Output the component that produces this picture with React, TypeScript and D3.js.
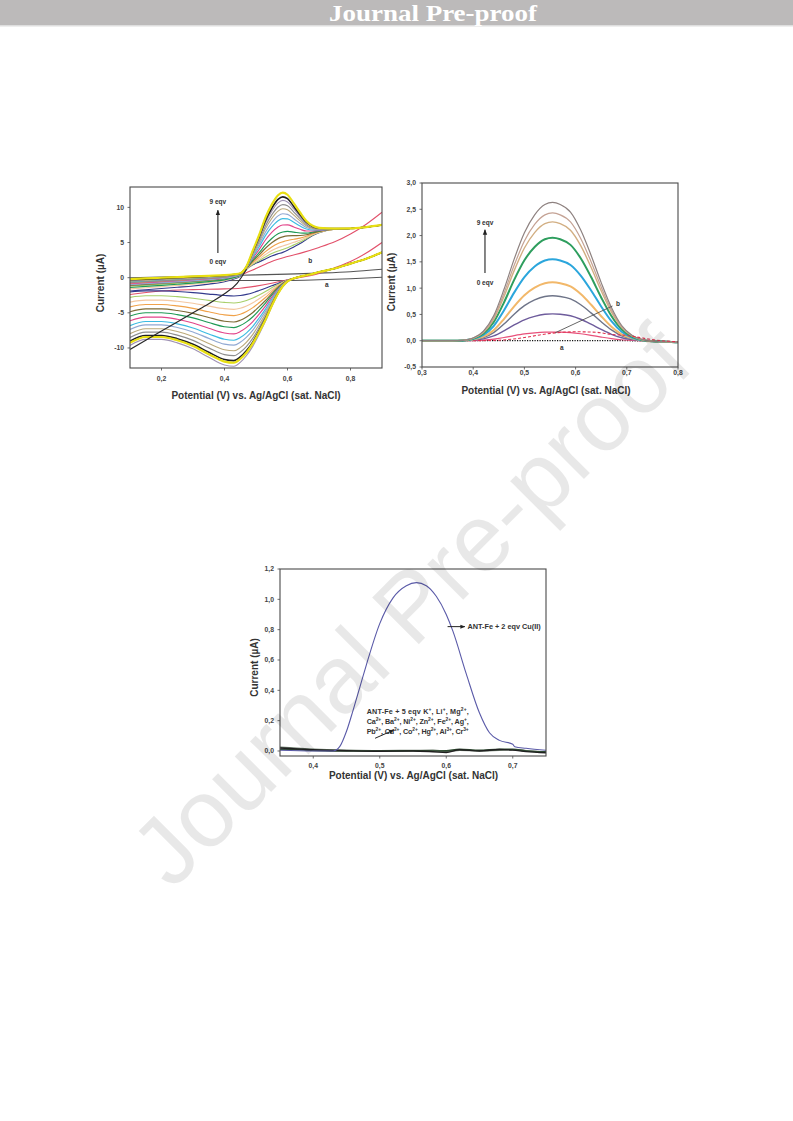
import React from "react";
import * as d3 from "d3";

const FONT = "'Liberation Sans', Arial, Helvetica, sans-serif";

// ================= Chart 1 : cyclic voltammograms =================
const cvXDomain = [0.1, 0.9];
const cvYDomain = [-12.85, 12.9];
const cvXTicks = [0.2, 0.4, 0.6, 0.8];
const cvYTicks = [-10, -5, 0, 5, 10];

const cvX = [0.10, 0.15, 0.20, 0.25, 0.30, 0.35, 0.40, 0.43, 0.45, 0.47, 0.49, 0.51, 0.53, 0.55, 0.57, 0.585, 0.60, 0.62, 0.64, 0.66, 0.68, 0.70, 0.75, 0.80, 0.85, 0.90];
// forward scan background (read from the bundle)
const cvUpBase = [-0.3, -0.2, -0.1, 0.0, 0.1, 0.2, 0.3, 0.45, 0.6, 1.2, 1.8, 2.2, 2.6, 3.0, 3.3, 3.5, 3.8, 4.3, 4.8, 5.4, 6.0, 6.4, 6.9, 7.0, 7.2, 7.5];
// relative fade of the low-potential offsets of the forward scans
const cvUpLeftFade = [1, 0.95, 0.9, 0.85, 0.8, 0.7, 0.55, 0.4, 0.25, 0, 0, 0, 0, 0, 0, 0, 0, 0, 0, 0, 0, 0, 0, 0, 0, 0];
// oxidation wave profile (1 at the anodic peak, 0.585 V)
const cvUpWave = [0, 0, 0, 0, 0, 0, 0, 0, 0, 0.05, 0.24, 0.45, 0.69, 0.86, 0.98, 1, 0.93, 0.73, 0.52, 0.31, 0.16, 0.08, 0.01, 0, 0, 0];
// reverse scan background
const cvLowBase = [-0.4, -0.4, -0.4, -0.4, -0.4, -0.4, -0.4, -0.45, -0.5, -0.5, -0.5, -0.5, -0.5, -0.5, -0.5, -0.4, -0.3, -0.1, 0.15, 0.35, 0.55, 0.8, 1.3, 2.0, 2.7, 3.6];
// reduction wave profile (1 at the cathodic peak, 0.43 V)
const cvLowWave = [0.76, 0.69, 0.69, 0.73, 0.8, 0.9, 0.99, 1, 0.95, 0.87, 0.76, 0.62, 0.47, 0.3, 0.15, 0.07, 0.02, 0, 0, 0, 0, 0, 0, 0, 0, 0];

// titration curves (0 -> 9 eqv)
const cvColors = ["#333a8c", "#a8cf6a", "#f3c7a0", "#f0a24a", "#7d6b35", "#1f9a55", "#e2448a", "#3bbbe2", "#90a8d2", "#bba97a", "#8e8e8e", "#a093b5", "#202020", "#e8df12"];
const cvAnodicPeak = [3.6, 4.0, 4.5, 5.1, 5.8, 6.5, 7.5, 8.4, 9.1, 9.8, 10.4, 11.0, 11.5, 12.1];
const cvCathodicPeak = [-2.6, -3.6, -4.5, -5.4, -6.3, -7.1, -8.0, -8.9, -9.6, -10.4, -11.1, -12.6, -11.8, -12.1];
const cvUpOffset = [-1.6, -0.9, -1.3, -0.5, -0.8, -1.1, -0.6, -0.3, -0.7, -0.2, -0.4, -0.1, 0.0, 0.1];

// curve b
const cvBX = [0.10, 0.20, 0.30, 0.40, 0.45, 0.50, 0.55, 0.60, 0.65, 0.70, 0.75, 0.80, 0.85, 0.90];
const cvBUp = [-0.8, -0.5, -0.3, 0.0, 0.4, 1.3, 2.3, 3.0, 3.6, 4.3, 5.1, 6.2, 7.6, 9.3];
const cvBLow = [-2.4, -1.9, -1.7, -1.6, -1.5, -1.2, -0.8, -0.3, 0.1, 0.6, 1.4, 2.3, 3.5, 5.0];
// curve a
const cvAX = [0.10, 0.30, 0.45, 0.60, 0.70, 0.80, 0.90];
const cvAUp = [0.0, 0.2, 0.35, 0.5, 0.65, 0.85, 1.2];
const cvALow = [-0.5, -0.45, -0.4, -0.4, -0.3, -0.15, 0.05];
// start of first scan
const cvStartX = [0.10, 0.15, 0.20, 0.25, 0.30, 0.35, 0.40, 0.44, 0.47];
const cvStartY = [-10.2, -8.9, -7.6, -6.3, -5.0, -3.7, -2.3, -0.8, 1.2];

// ================= Chart 2 : DPV titration =================
const dpvXDomain = [0.3, 0.8];
const dpvYDomain = [-0.5, 3.0];
const dpvXTicks = [0.3, 0.4, 0.5, 0.6, 0.7, 0.8];
const dpvYTicks = [-0.5, 0, 0.5, 1, 1.5, 2, 2.5, 3];
const dpvX = [0.30, 0.36, 0.38, 0.40, 0.42, 0.44, 0.46, 0.48, 0.50, 0.52, 0.54, 0.555, 0.57, 0.59, 0.61, 0.63, 0.65, 0.67, 0.69, 0.71, 0.73, 0.75, 0.78, 0.80];
const dpvShape = [0, 0, 0.003, 0.02, 0.07, 0.18, 0.37, 0.59, 0.78, 0.91, 0.985, 1, 0.985, 0.93, 0.8, 0.62, 0.42, 0.24, 0.11, 0.04, 0.01, 0, 0, 0];
const dpvBaseline = [0, 0, 0, 0, 0, 0, 0, 0, 0, 0, 0, 0, 0, 0, 0, 0, 0, 0, 0, 0, -0.005, -0.01, -0.02, -0.03];
const dpvPeaks = [0.165, 0.51, 0.855, 1.11, 1.55, 1.96, 2.26, 2.43, 2.63];
const dpvColors = ["#e8507a", "#6e5c9c", "#6e7488", "#f2b86a", "#2ba6dc", "#2e9e5e", "#d2ae82", "#c4a294", "#8e8280"];
const dpvWidths = [1.2, 1.4, 1.4, 2, 2, 2, 1.4, 1.2, 1.2];
const dpvBX = [0.40, 0.45, 0.50, 0.53, 0.56, 0.60, 0.64, 0.67, 0.70, 0.72, 0.75, 0.80];
const dpvBY = [0, 0.01, 0.06, 0.11, 0.15, 0.17, 0.16, 0.12, 0.1, 0.07, 0.02, -0.02];
const dpvAX = [0.3, 0.7, 0.75, 0.8];
const dpvAY = [0, 0, -0.01, -0.03];

// ================= Chart 3 : selectivity =================
const selXDomain = [0.35, 0.75];
const selYDomain = [-0.033, 1.2];
const selXTicks = [0.4, 0.5, 0.6, 0.7];
const selYTicks = [0, 0.2, 0.4, 0.6, 0.8, 1.0, 1.2];
const selCuX = [0.35, 0.40, 0.43, 0.44, 0.45, 0.46, 0.47, 0.48, 0.50, 0.52, 0.54, 0.555, 0.57, 0.585, 0.60, 0.61, 0.63, 0.65, 0.665, 0.68, 0.70, 0.703, 0.72, 0.75];
const selCuY = [0.005, 0.0, 0.0, 0.03, 0.13, 0.27, 0.42, 0.57, 0.84, 1.01, 1.09, 1.11, 1.09, 1.02, 0.9, 0.79, 0.51, 0.25, 0.12, 0.07, 0.045, 0.028, 0.018, 0.005];
const selBaseX = [0.35, 0.37, 0.40, 0.45, 0.50, 0.55, 0.58, 0.60, 0.62, 0.65, 0.68, 0.70, 0.72, 0.75];
const selBase1 = [0.02, 0.015, 0.008, 0.002, -0.002, 0.0, -0.005, -0.01, 0.008, 0.0, 0.01, 0.006, -0.004, -0.012];
const selBase2 = [0.012, 0.01, 0.004, 0.0, 0.0, 0.002, 0.0, 0.002, 0.012, 0.004, 0.012, 0.012, 0.0, -0.006];
const selBase3 = [0.025, 0.02, 0.012, 0.005, 0.002, 0.003, 0.004, -0.002, 0.005, 0.002, 0.006, 0.008, 0.002, -0.008];
const selBaseColors = ["#6a7a6a", "#2e4a30", "#202020"];

const ionLines: [string, string][][] = [
  [["ANT-Fe + 5 eqv K", "+"], [", Li", "+"], [", Mg", "2+"], [",", ""]],
  [["Ca", "2+"], [", Ba", "2+"], [", Ni", "2+"], [", Zn", "2+"], [", Fe", "2+"], [", Ag", "+"], [",", ""]],
  [["Pb", "2+"], [", Cd", "2+"], [", Co", "2+"], [", Hg", "2+"], [", Al", "3+"], [", Cr", "3+"]],
];

type Box = { l: number; t: number; r: number; b: number };

const fmt = (v: number, d: number) => (v < 0 ? "-" : "") + Math.abs(v).toFixed(d).replace(".", ",");

function Axes(p: {
  box: Box; xs: any; ys: any; xTicks: number[]; yTicks: number[]; xDec: number; yDec: number;
  xLabDy: number; xTitleX: number; xTitleY: number; yTitleX: number; yTitleY: number;
}) {
  const { box, xs, ys } = p;
  const c = "#4a4a4a";
  return (
    <g fontFamily={FONT}>
      <rect x={box.l} y={box.t} width={box.r - box.l} height={box.b - box.t} fill="none" stroke={c} strokeWidth={1.1} />
      {p.xTicks.map((v) => (
        <g key={"x" + v}>
          <line x1={xs(v)} x2={xs(v)} y1={box.b} y2={box.b + 2.5} stroke={c} strokeWidth={0.8} />
          <text x={xs(v)} y={box.b + p.xLabDy} textAnchor="middle" fontSize={6.8} fontWeight="bold" fill="#444">{fmt(v, p.xDec)}</text>
        </g>
      ))}
      {p.yTicks.map((v) => (
        <g key={"y" + v}>
          <line x1={box.l - 2.5} x2={box.l} y1={ys(v)} y2={ys(v)} stroke={c} strokeWidth={0.8} />
          <text x={box.l - 6} y={ys(v) + 2.4} textAnchor="end" fontSize={6.8} fontWeight="bold" fill="#444">{fmt(v, p.yDec)}</text>
        </g>
      ))}
      <text x={p.xTitleX} y={p.xTitleY} textAnchor="middle" fontSize={10} fontWeight="bold" fill="#333">Potential (V) vs. Ag/AgCl (sat. NaCl)</text>
      <text transform={`translate(${p.yTitleX},${p.yTitleY}) rotate(-90)`} textAnchor="middle" fontSize={10} fontWeight="bold" fill="#333">Current (µA)</text>
    </g>
  );
}

function IonText({ x, y, segs, len }: { x: number; y: number; segs: [string, string][]; len: number }) {
  const parts: React.ReactNode[] = [];
  let raised = false;
  segs.forEach(([t, s], k) => {
    parts.push(<tspan key={"t" + k} dy={raised ? 2.7 : 0}>{t}</tspan>);
    raised = false;
    if (s) {
      parts.push(<tspan key={"s" + k} dy={-2.7} fontSize={4.9}>{s}</tspan>);
      raised = true;
    }
  });
  return <text x={x} y={y} textLength={len} lengthAdjust="spacing">{parts}</text>;
}

export default function App() {
  // ---------- chart 1 ----------
  const b1: Box = { l: 130, t: 187, r: 382, b: 368 };
  const x1 = d3.scaleLinear().domain(cvXDomain).range([b1.l, b1.r]);
  const y1 = d3.scaleLinear().domain(cvYDomain).range([b1.b, b1.t]);
  const l1 = d3.line<[number, number]>().x((d) => x1(d[0])).y((d) => y1(d[1])).curve(d3.curveMonotoneX);
  const zip = (xs: number[], ys: number[]) => xs.map((x, i) => [x, ys[i]] as [number, number]);
  const upK = cvX.indexOf(0.585);
  const lowK = cvX.indexOf(0.43);
  const cvCurves = cvAnodicPeak.map((ap, i) => {
    const up = cvX.map((x, k) => [x, cvUpBase[k] + cvUpOffset[i] * cvUpLeftFade[k] + (ap - cvUpBase[upK]) * cvUpWave[k]] as [number, number]);
    const low = cvX.map((x, k) => [x, cvLowBase[k] + (cvCathodicPeak[i] - cvLowBase[lowK]) * cvLowWave[k]] as [number, number]);
    return { up, low, color: cvColors[i], w: i === cvColors.length - 1 ? 2.2 : i === cvColors.length - 2 ? 1.6 : 1.15 };
  });

  // ---------- chart 2 ----------
  const b2: Box = { l: 422, t: 183, r: 678, b: 367 };
  const x2 = d3.scaleLinear().domain(dpvXDomain).range([b2.l, b2.r]);
  const y2 = d3.scaleLinear().domain(dpvYDomain).range([b2.b, b2.t]);
  const l2 = d3.line<[number, number]>().x((d) => x2(d[0])).y((d) => y2(d[1])).curve(d3.curveMonotoneX);
  const dpvCurves = dpvPeaks.map((p, i) => ({
    pts: dpvX.map((x, k) => [x, dpvBaseline[k] + p * dpvShape[k]] as [number, number]),
    color: dpvColors[i],
    w: dpvWidths[i],
  }));

  // ---------- chart 3 ----------
  const b3: Box = { l: 280, t: 569, r: 546, b: 756 };
  const x3 = d3.scaleLinear().domain(selXDomain).range([b3.l, b3.r]);
  const y3 = d3.scaleLinear().domain(selYDomain).range([b3.b, b3.t]);
  const l3 = d3.line<[number, number]>().x((d) => x3(d[0])).y((d) => y3(d[1])).curve(d3.curveMonotoneX);
  const selBases = [selBase3, selBase2, selBase1];

  const labelProps = { fontFamily: FONT, fontWeight: "bold" as const, fill: "#333" };

  return (
    <svg width={793} height={1121} viewBox="0 0 793 1121" style={{ position: "absolute", left: 0, top: 0, background: "#fff" }}>
      <defs>
        <clipPath id="c1"><rect x={b1.l} y={b1.t} width={b1.r - b1.l} height={b1.b - b1.t} /></clipPath>
        <clipPath id="c2"><rect x={b2.l} y={b2.t} width={b2.r - b2.l} height={b2.b - b2.t} /></clipPath>
        <clipPath id="c3"><rect x={b3.l} y={b3.t} width={b3.r - b3.l} height={b3.b - b3.t} /></clipPath>
        <marker id="ah" viewBox="0 0 10 10" refX="9" refY="5" markerWidth="5" markerHeight="5" orient="auto-start-reverse">
          <path d="M0,1 L10,5 L0,9 z" fill="#222" />
        </marker>
      </defs>
      <rect x={0} y={0} width={793} height={1121} fill="#fff" />

      {/* header */}
      <rect x={0} y={0} width={793} height={25} fill="#bcbaba" />
      <rect x={0} y={25} width={793} height={1.5} fill="#dedede" />
      <text x={433} y={20.5} textAnchor="middle" fontFamily="'Liberation Serif', 'Times New Roman', serif" fontWeight="bold" fontSize={24} fill="#fff" textLength={208} lengthAdjust="spacingAndGlyphs">Journal Pre-proof</text>

      {/* ---------- chart 1 ---------- */}
      <g clipPath="url(#c1)" fill="none">
        <path d={l1(zip(cvAX, cvAUp)) || ""} stroke="#555" strokeWidth={1.1} />
        <path d={l1(zip(cvAX, cvALow)) || ""} stroke="#555" strokeWidth={1.1} />
        <path d={l1(zip(cvBX, cvBUp)) || ""} stroke="#e2506a" strokeWidth={1.1} />
        <path d={l1(zip(cvBX, cvBLow)) || ""} stroke="#e2506a" strokeWidth={1.1} />
        {cvCurves.map((c, i) => (
          <g key={i}>
            <path d={l1(c.up) || ""} stroke={c.color} strokeWidth={c.w} />
            <path d={l1(c.low) || ""} stroke={c.color} strokeWidth={c.w} />
          </g>
        ))}
        <path d={l1(zip(cvStartX, cvStartY)) || ""} stroke="#2a2a2a" strokeWidth={1.2} />
      </g>
      <Axes box={b1} xs={x1} ys={y1} xTicks={cvXTicks} yTicks={cvYTicks} xDec={1} yDec={0}
        xLabDy={12.5} xTitleX={256} xTitleY={398.5} yTitleX={104} yTitleY={283} />
      <g {...labelProps} fontSize={6.5}>
        <text x={x1(0.379)} y={y1(10.8) + 2.2} textAnchor="middle">9 eqv</text>
        <text x={x1(0.379)} y={y1(2.2) + 2.2} textAnchor="middle">0 eqv</text>
        <text x={x1(0.672)} y={y1(2.4) + 2.2} textAnchor="middle">b</text>
        <text x={x1(0.725)} y={y1(-1.0) + 2.2} textAnchor="middle">a</text>
      </g>
      <line x1={x1(0.379)} x2={x1(0.379)} y1={y1(3.5)} y2={y1(9.6)} stroke="#222" strokeWidth={1.1} markerEnd="url(#ah)" />

      {/* ---------- chart 2 ---------- */}
      <g clipPath="url(#c2)" fill="none">
        <path d={l2(zip(dpvAX, dpvAY)) || ""} stroke="#111" strokeWidth={1.3} strokeDasharray="1.2,1.3" />
        {dpvCurves.map((c, i) => (
          <path key={i} d={l2(c.pts) || ""} stroke={c.color} strokeWidth={c.w} />
        ))}
        <path d={l2(zip(dpvBX, dpvBY)) || ""} stroke="#e03050" strokeWidth={1.1} strokeDasharray="3,2" />
      </g>
      <line x1={x2(0.56)} y1={y2(0.15)} x2={x2(0.672)} y2={y2(0.66)} stroke="#555" strokeWidth={0.9} />
      <Axes box={b2} xs={x2} ys={y2} xTicks={dpvXTicks} yTicks={dpvYTicks} xDec={1} yDec={1}
        xLabDy={8} xTitleX={546} xTitleY={393.5} yTitleX={395} yTitleY={282} />
      <g {...labelProps} fontSize={6.5}>
        <text x={x2(0.423)} y={y2(2.24) + 2.2} textAnchor="middle">9 eqv</text>
        <text x={x2(0.423)} y={y2(1.10) + 2.2} textAnchor="middle">0 eqv</text>
        <text x={x2(0.683)} y={y2(0.70) + 2.2} textAnchor="middle">b</text>
        <text x={x2(0.573)} y={y2(-0.13) + 2.2} textAnchor="middle">a</text>
      </g>
      <line x1={x2(0.423)} x2={x2(0.423)} y1={y2(1.29)} y2={y2(2.11)} stroke="#222" strokeWidth={1.1} markerEnd="url(#ah)" />

      {/* ---------- chart 3 ---------- */}
      <g clipPath="url(#c3)" fill="none">
        {selBases.map((s, i) => (
          <path key={i} d={l3(zip(selBaseX, s)) || ""} stroke={selBaseColors[i]} strokeWidth={i === 2 ? 1.4 : 1.6} />
        ))}
        <path d={l3(zip(selCuX, selCuY)) || ""} stroke="#5a5aa8" strokeWidth={1.1} />
      </g>
      <Axes box={b3} xs={x3} ys={y3} xTicks={selXTicks} yTicks={selYTicks} xDec={1} yDec={1}
        xLabDy={12} xTitleX={413.5} xTitleY={778.5} yTitleX={258} yTitleY={667.5} />
      <line x1={x3(0.602)} x2={x3(0.628)} y1={y3(0.82)} y2={y3(0.82)} stroke="#222" strokeWidth={1} markerEnd="url(#ah)" />
      <text x={x3(0.632)} y={y3(0.82) + 2.6} {...labelProps} fontSize={7.3}>ANT-Fe + 2 eqv Cu(II)</text>
      <g {...labelProps} fontSize={7.2}>
        {ionLines.map((ln, li) => (
          <IonText key={li} x={366.7} y={714 + li * 10} segs={ln} len={102} />
        ))}
      </g>
      <line x1={x3(0.493)} y1={y3(0.084)} x2={x3(0.521)} y2={y3(0.138)} stroke="#222" strokeWidth={1} markerEnd="url(#ah)" />

      {/* watermark */}
      <text x={410} y={639} transform="rotate(-45,410,605)" textAnchor="middle" fontFamily={FONT} fontSize={96} fill="#000" fillOpacity={0.09}>Journal Pre-proof</text>
    </svg>
  );
}
